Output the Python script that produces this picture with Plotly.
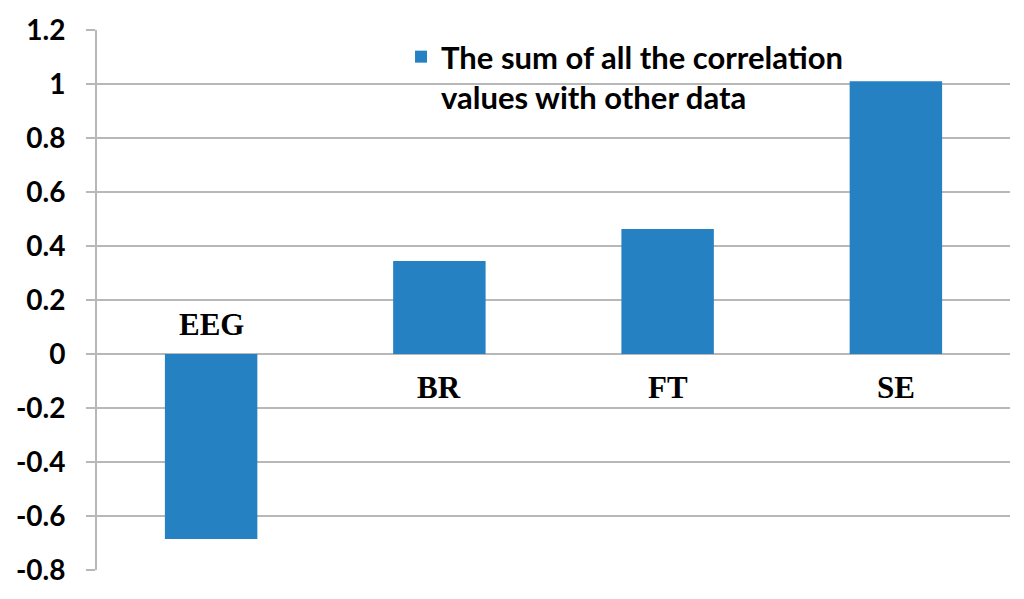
import plotly.graph_objects as go

categories = ["EEG", "BR", "FT", "SE"]
values = [-0.685, 0.344, 0.463, 1.01]
series_name = "The sum of all the correlation<br>values with other data"
tick_vals = [-0.8, -0.6, -0.4, -0.2, 0, 0.2, 0.4, 0.6, 0.8, 1.0, 1.2]
tick_text = ["-0.8", "-0.6", "-0.4", "-0.2", "0", "0.2", "0.4", "0.6", "0.8", "1", "1.2"]

bar_color = "#2581C2"
grid_color = "#B8B8B8"

fig = go.Figure()
fig.add_trace(go.Bar(
    x=categories, y=values, name=series_name,
    marker=dict(color=bar_color, line=dict(width=0)),
    width=0.405, showlegend=True,
))

annotations = []
for c, v in zip(categories, values):
    above = v < 0
    annotations.append(dict(
        x=c, y=0, xref="x", yref="y", text=c, showarrow=False,
        yshift=30 if above else -33,
        font=dict(family="Liberation Serif", size=31, color="black", weight="bold"),
    ))

fig.update_layout(
    width=1016, height=591,
    margin=dict(l=89, r=14, t=22, b=29, autoexpand=False),
    paper_bgcolor="white", plot_bgcolor="white",
    annotations=annotations,
    legend=dict(
        x=0.333, y=1.0, xanchor="left", yanchor="top", valign="top",
        font=dict(family="Lato", size=31, color="black", weight="bold"),
        bgcolor="rgba(0,0,0,0)",
    ),
    xaxis=dict(showticklabels=False, showgrid=False, zeroline=False,
               showline=False, ticks="", range=[-0.5, 3.5], automargin=False),
    yaxis=dict(
        range=[-0.8, 1.2], tickvals=tick_vals, ticktext=tick_text,
        showgrid=True, gridcolor=grid_color, gridwidth=1.8,
        zeroline=True, zerolinecolor=grid_color, zerolinewidth=1.8,
        showline=True, linecolor=grid_color, linewidth=1.8,
        ticks="outside", ticklen=9, tickcolor=grid_color, tickwidth=1.8,
        tickfont=dict(family="Lato", size=28, color="black", weight="bold"),
        ticklabelstandoff=15, automargin=False,
    ),
)

fig.write_html("out.html")
